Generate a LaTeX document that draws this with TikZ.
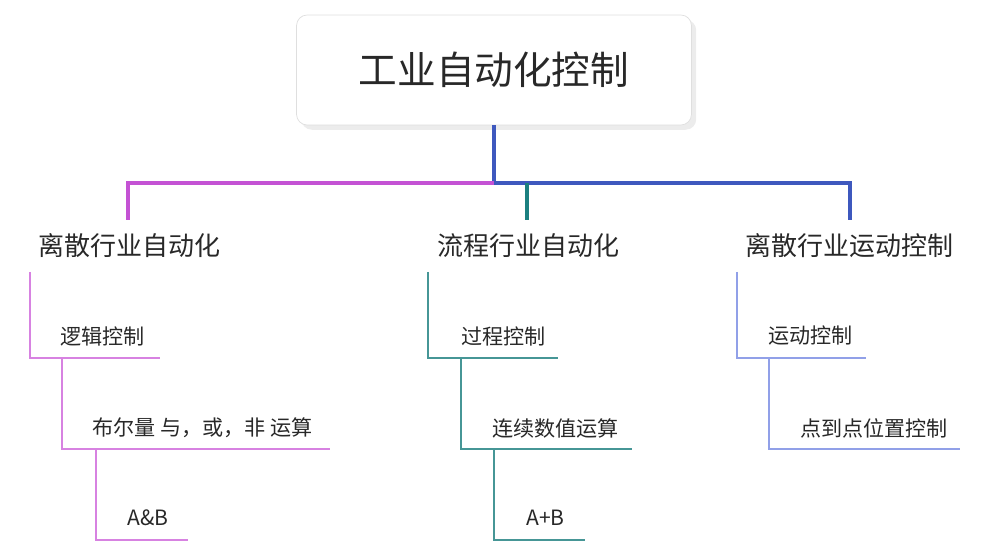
\documentclass[tikz,border=0pt]{standalone}
\usepackage{fontspec}
\setmainfont{Noto Sans CJK SC}
\usetikzlibrary{shadows}
\definecolor{rootblue}{RGB}{62,88,190}
\definecolor{discmag}{RGB}{196,82,212}
\definecolor{flowteal}{RGB}{28,128,128}
\definecolor{motionblue}{RGB}{70,90,200}
\definecolor{lightmag}{RGB}{215,130,225}
\definecolor{lightteal}{RGB}{70,150,150}
\definecolor{lightblue}{RGB}{145,160,232}
\definecolor{inkgray}{RGB}{40,40,40}
\tikzset{
  rootbox/.style={draw=gray!25, fill=white, rounded corners=6pt, minimum width=7.9cm, minimum height=2.2cm, drop shadow={opacity=0.15}, font=\fontsize{22}{25}\selectfont, text=inkgray},
  topic/.style={anchor=west, inner sep=0pt, font=\fontsize{14.8}{17}\selectfont, text=inkgray},
  leaf/.style={anchor=west, inner sep=0pt, font=\fontsize{12}{14}\selectfont, text=inkgray},
  trunk/.style={line width=2pt},
  twig/.style={line width=0.8pt}
}
\begin{document}
\begin{tikzpicture}[x=0.02cm, y=-0.02cm]
    \useasboundingbox (0,0) rectangle (990,560);
    % Root
    \node[rootbox] (root) at (494,70) {工业自动化控制};
    \coordinate (hub) at (494,183);
    \coordinate (hubl) at (128,183);
    \coordinate (hubm) at (527,183);
    \coordinate (hubr) at (850,183);
    \draw[trunk, rootblue] (root.south) -- (hub);
    \draw[trunk, discmag] (hub) -- (hubl) -- (128,220);
    \draw[trunk, rootblue] (hub) -- (hubr) -- (850,220);
    \draw[trunk, flowteal] (hubm) -- (527,220);

    % Topics
    \node[topic] (disc) at (38,246) {离散行业自动化};
    \node[topic] (flow) at (437,246) {流程行业自动化};
    \node[topic] (motion) at (745,246) {离散行业运动控制};

    % Discrete branch
    \node[leaf] (logic) at (60,336) {逻辑控制};
    \node[leaf] (bool) at (92,428) {布尔量 与，或，非 运算};
    \node[leaf] (and) at (127,518) {A\&B};
    \draw[twig, lightmag] (30,272) -- (30,358) -- (160,358);
    \draw[twig, lightmag] (62,358) -- (62,449) -- (330,449);
    \draw[twig, lightmag] (96,449) -- (96,540) -- (188,540);

    % Flow branch
    \node[leaf] (proc) at (461,336) {过程控制};
    \node[leaf] (cont) at (492,428) {连续数值运算};
    \node[leaf] (plus) at (526,518) {A+B};
    \draw[twig, lightteal] (428,272) -- (428,358) -- (558,358);
    \draw[twig, lightteal] (461,358) -- (461,449) -- (632,449);
    \draw[twig, lightteal] (494,449) -- (494,540) -- (585,540);

    % Motion branch
    \node[leaf] (move) at (768,336) {运动控制};
    \node[leaf] (ptp) at (800,428) {点到点位置控制};
    \draw[twig, lightblue] (737,272) -- (737,358) -- (866,358);
    \draw[twig, lightblue] (769,358) -- (769,449) -- (960,449);
\end{tikzpicture}
\end{document}
